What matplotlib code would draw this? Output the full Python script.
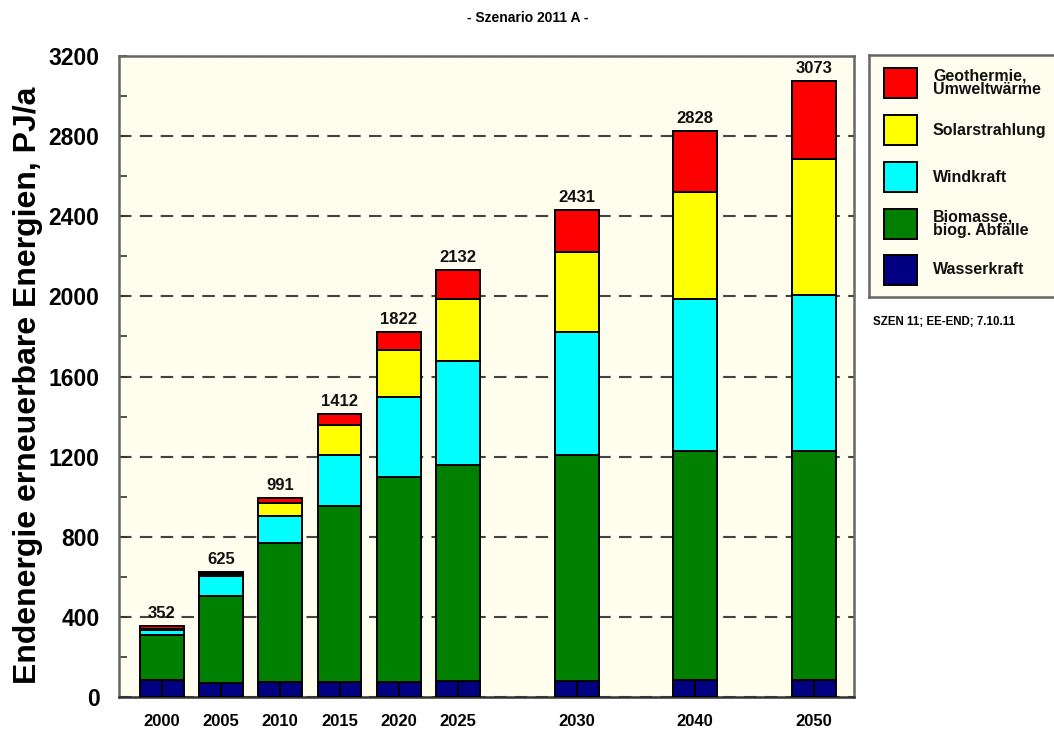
import matplotlib
matplotlib.use("Agg")
import matplotlib.pyplot as plt
from matplotlib.patches import Rectangle
import numpy as np

# ---- data ----
years = ["2000", "2005", "2010", "2015", "2020", "2025", "2030", "2040", "2050"]
positions = [0, 1, 2, 3, 4, 5, 7, 9, 11]
wasserkraft = [85, 70, 75, 75, 75, 80, 80, 85, 85]
biomasse = [225, 435, 695, 880, 1025, 1080, 1130, 1145, 1145]
windkraft = [22, 100, 135, 255, 400, 515, 610, 755, 775]
solar = [8, 10, 65, 150, 230, 310, 400, 535, 680]
geothermie = [12, 10, 21, 52, 92, 147, 211, 308, 388]
totals = [352, 625, 991, 1412, 1822, 2132, 2431, 2828, 3073]

labels = ["Geothermie,\nUmweltwärme", "Solarstrahlung", "Windkraft",
          "Biomasse,\nbiog. Abfälle", "Wasserkraft"]
colors = ["#FF0000", "#FFFF00", "#00FFFF", "#008000", "#000080"]

BG = "#FFFEEE"
plt.rcParams['font.family'] = ['Liberation Sans', 'DejaVu Sans']
plt.rcParams['font.weight'] = 'bold'

fig = plt.figure(figsize=(10.54, 7.29), dpi=100)
fig.patch.set_facecolor("white")
L, R, B, T = 119/1054, 854/1054, 1-697/729, 1-56/729
ax = fig.add_axes([L, B, R-L, T-B])
ax.set_facecolor(BG)

x = np.array(positions, dtype=float)
w = 0.74
ew = 1.4
# Wasserkraft drawn as two halves (divider in middle)
ax.bar(x - w/4, wasserkraft, w/2, color=colors[4], edgecolor="black", linewidth=ew, zorder=3)
ax.bar(x + w/4, wasserkraft, w/2, color=colors[4], edgecolor="black", linewidth=ew, zorder=3)
bottom = np.array(wasserkraft, dtype=float)
for vals, col in [(biomasse, colors[3]), (windkraft, colors[2]),
                  (solar, colors[1]), (geothermie, colors[0])]:
    ax.bar(x, vals, w, bottom=bottom, color=col, edgecolor="black", linewidth=ew, zorder=3)
    bottom = bottom + np.array(vals)

for xi, top, t in zip(x, bottom, totals):
    ax.text(xi, top + 25, str(t), ha="center", va="bottom", fontsize=12,
            fontweight="bold", color="#111111", zorder=4)

ax.set_xlim(-0.72, 11.68)
ax.set_ylim(0, 3200)
ax.set_yticks(np.arange(0, 3201, 400))
ax.set_yticks(np.arange(0, 3201, 200), minor=True)
ax.set_xticks(x)
ax.set_xticklabels(years)
ax.tick_params(axis="y", which="both", direction="in", length=6, width=1.2,
               color="#333333", labelsize=16.5, pad=14)
ax.tick_params(axis="x", length=0, labelsize=12, pad=12)
for lab in ax.get_yticklabels() + ax.get_xticklabels():
    lab.set_fontweight("bold")
ax.yaxis.grid(True, which="major", linestyle=(0, (6, 4)), color="#444444", linewidth=1.5, zorder=1)
ax.set_axisbelow(True)
for s in ax.spines.values():
    s.set_color("#666666")
    s.set_linewidth(1.8)
ax.spines["bottom"].set_color("#333333")

ax.set_ylabel("Endenergie erneuerbare Energien, PJ/a", fontsize=23, fontweight="bold")
ax.yaxis.set_label_coords(-0.103, 0.487)

fig.text(528/1054, 1-18/729, "- Szenario 2011 A -", ha="center", va="center",
         fontsize=10, fontweight="bold", family=["Liberation Sans Narrow", "Liberation Sans"])

# ---- legend ----
lx0, ly0, ly1 = 869/1054, 1-297/729, 1-55/729
lax = fig.add_axes([lx0, ly0, 1.02 - lx0, ly1 - ly0])
lax.set_facecolor(BG)
lax.set_xlim(0, 190)
lax.set_ylim(242, 0)
lax.set_xticks([]); lax.set_yticks([])
for s in lax.spines.values():
    s.set_color("#666666"); s.set_linewidth(1.8)
ys = [28, 75, 122, 169, 215]
for yy, lab, col in zip(ys, labels, colors):
    lax.add_patch(Rectangle((14, yy - 15), 30, 30, facecolor=col, edgecolor="black", linewidth=1.4))
    lax.text(59, yy, lab, ha="left", va="center", fontsize=11.5, fontweight="bold",
             linespacing=0.85, color="#111111")

fig.text(873/1054, 1-322/729, "SZEN 11; EE-END; 7.10.11", ha="left", va="center",
         fontsize=8.3, fontweight="bold")

fig.savefig("out.png", dpi=100, facecolor="white")
